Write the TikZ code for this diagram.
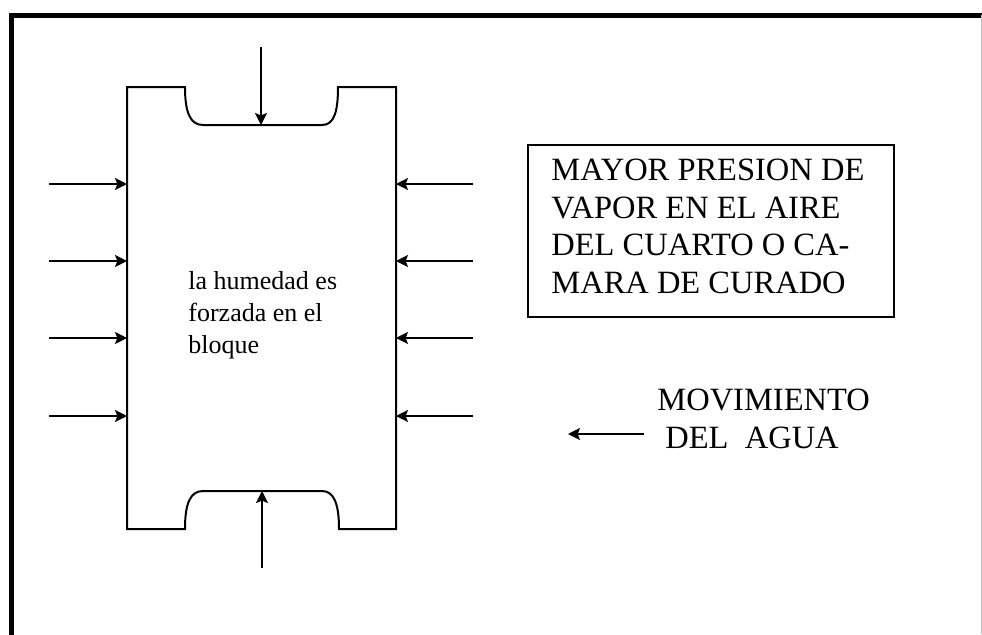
\documentclass[tikz,border=0pt]{standalone}
\usepackage{fontspec}
\setmainfont{Liberation Serif}
\usetikzlibrary{arrows.meta,positioning}
\tikzset{>={Stealth[length=6pt,width=6pt,inset=1.2pt]},x=0.5pt,y=-0.5pt}
\tikzset{
  bloque/.style={line width=1pt},
  flecha/.style={->,line width=1pt},
  marco/.style={line width=2.5pt},
  grande/.style={font=\fontsize{16.25}{18.85}\selectfont,align=left,inner sep=0pt},
  chico/.style={font=\fontsize{13}{16}\selectfont,align=left,inner sep=0pt}
}

\begin{document}
\begin{tikzpicture}
  \useasboundingbox (0,0) rectangle (982,634);
  % marco exterior
  \draw[marco] (11,660) |- (995,15.5);
  \draw[gray!50,line width=0.5pt] (981.5,15) -- (981.5,634);
  % bloque
  \draw[bloque] (127,87) -- (185,87) .. controls (185,112) and (190,125) .. (203,125)
     -- (322,125) .. controls (334,125) and (338,112) .. (338,87)
     -- (396,87) -- (396,529) -- (339,529)
     .. controls (339,504) and (334,491) .. (322,491)
     -- (203,491) .. controls (190,491) and (185,504) .. (185,529)
     -- (127,529) -- cycle;
  \coordinate (arriba) at (261,47);
  \coordinate (tope)   at (261,125);
  \coordinate (abajo)  at (262,568);
  \coordinate (fondo)  at (262,491);
  \foreach \i/\y in {1/184,2/261,3/338,4/416}{
    \coordinate (izq\i) at (49,\y);
    \coordinate (bi\i)  at (127,\y);
    \coordinate (der\i) at (473,\y);
    \coordinate (bd\i)  at (396,\y);
    \path[flecha] (izq\i) edge (bi\i) (der\i) edge (bd\i);
  }
  \path[flecha] (arriba) edge (tope) (abajo) edge (fondo);
  \node[chico,anchor=north west] (humedad) at (188,271) {la humedad es\\forzada en el\\bloque};
  % cuadro de la derecha
  \node[draw,line width=1pt,minimum width=183pt,minimum height=86pt,inner sep=0pt] (camara) at (711,231) {};
  \node[grande,anchor=north west] (presion) at (551,158.5) {MAYOR PRESION DE\\VAPOR EN EL AIRE\\DEL CUARTO O CA-\\MARA DE CURADO};
  \node[grande,anchor=north west] (movimiento) at (657,388.5) {MOVIMIENTO\\\hspace*{4pt}DEL\ \ AGUA};
  \coordinate (mov1) at (644,434);
  \coordinate (mov2) at (568,434);
  \path[flecha] (mov1) edge (mov2);
\end{tikzpicture}
\end{document}
